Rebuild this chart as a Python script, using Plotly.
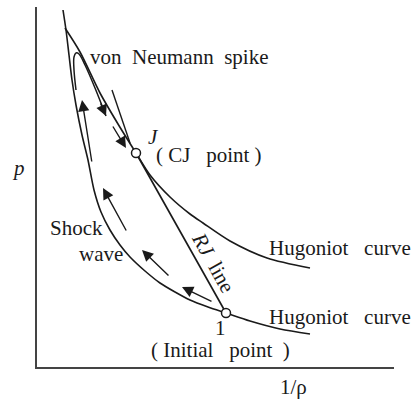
import plotly.graph_objects as go

H = 400  # picture height, used to turn read-off pixel rows into p values

# Upper (detonation-product) Hugoniot curve (x, row)
upper_x = [65, 80, 100, 118, 136, 150, 170, 190, 203, 230, 267, 310]
upper_r = [28, 52, 93, 124, 153, 175, 197, 214, 223, 241, 258, 268]

# Lower (unreacted) Hugoniot curve
lower_x = [63, 66, 69, 72, 76, 82, 88, 94, 101, 110, 120, 130, 145, 160, 175, 190, 208, 226, 250, 280, 310]
lower_r = [10, 30, 55, 80, 105, 135, 160, 190, 212, 230, 245, 257, 271, 283, 292, 300, 307, 313, 321, 329, 334]

# Rayleigh (RJ) line: initial point -> J, and the tangent piece above J
rj_x = [226, 136]
rj_r = [313, 153]
tan_x = [112, 130]
tan_r = [90, 143]

# Special points: J (CJ point) and 1 (initial point)
pt_x = [136, 226]
pt_r = [153, 313]

# von Neumann spike loop path
loop_x = [76, 74, 74, 76, 79, 85, 95, 106]
loop_r = [90, 70, 57, 53, 54, 65, 88, 116]

# Arrows along the path: tail (x, row) -> head (x, row)
arr_tx = [92, 127, 170, 213, 112, 100]
arr_tr = [163, 232, 277, 302, 125, 102]
arr_hx = [82, 103, 142, 182, 126, 106]
arr_hr = [100, 188, 250, 287, 148, 116]

# Axes frame
axis_x = [36, 36, 394]
axis_r = [7, 368, 368]

# Labels
S = "\u00a0"
lab_text = ["von" + S * 2 + "Neumann" + S * 2 + "spike", "<i>J</i>", "(" + S + "CJ" + S * 3 + "point" + S + ")",
            "<i>p</i>", "Shock", "wave", "Hugoniot" + S * 3 + "curve", "Hugoniot" + S * 3 + "curve",
            "1", "(" + S + "Initial" + S * 3 + "point" + S * 2 + ")", "1/\u03c1"]
lab_x = [88, 146, 154, 10, 48, 77, 267, 267, 213, 149, 278]
lab_r = [57, 137, 155, 168, 228, 254, 248, 317, 328, 350, 387]

def p(rows):
    return [H - r for r in rows]

BLACK = "#1a1a1a"
FONT = dict(family="Liberation Serif, Times New Roman, serif", size=21, color=BLACK)

fig = go.Figure()
fig.add_trace(go.Scatter(x=axis_x, y=p(axis_r), mode="lines",
                         line=dict(color="#444444", width=2), hoverinfo="skip"))
fig.add_trace(go.Scatter(x=upper_x, y=p(upper_r), mode="lines",
                         line=dict(color=BLACK, width=1.6, shape="spline", smoothing=0.8)))
fig.add_trace(go.Scatter(x=lower_x, y=p(lower_r), mode="lines",
                         line=dict(color=BLACK, width=1.6, shape="spline", smoothing=0.8)))
fig.add_trace(go.Scatter(x=rj_x, y=p(rj_r), mode="lines", line=dict(color=BLACK, width=1.6)))
fig.add_trace(go.Scatter(x=tan_x, y=p(tan_r), mode="lines", line=dict(color=BLACK, width=1.4)))
fig.add_trace(go.Scatter(x=loop_x, y=p(loop_r), mode="lines",
                         line=dict(color=BLACK, width=1.5, shape="spline", smoothing=1.0)))
fig.add_trace(go.Scatter(x=pt_x, y=p(pt_r), mode="markers",
                         marker=dict(size=9, color="white", line=dict(color=BLACK, width=1.5))))

for tx, tr, hx, hr in zip(arr_tx, arr_tr, arr_hx, arr_hr):
    fig.add_annotation(x=hx, y=H - hr, ax=tx, ay=H - tr, axref="x", ayref="y",
                       xref="x", yref="y", text="", showarrow=True, arrowhead=2,
                       arrowsize=1.6, arrowwidth=1.4, arrowcolor=BLACK, standoff=0, startstandoff=0)

for t, x, r in zip(lab_text, lab_x, lab_r):
    fig.add_annotation(x=x, y=H - r, text=t, showarrow=False, xanchor="left",
                       yanchor="middle", font=FONT)

fig.add_annotation(x=213, y=H - 262, text="<i>RJ</i>" + S * 2 + "line", showarrow=False,
                   textangle=61, font=FONT, xanchor="center", yanchor="middle")

fig.update_layout(width=414, height=400, margin=dict(l=0, r=0, t=0, b=0),
                  paper_bgcolor="white", plot_bgcolor="white", showlegend=False,
                  xaxis=dict(range=[0, 414], visible=False, fixedrange=True),
                  yaxis=dict(range=[0, 400], visible=False, fixedrange=True))

fig.write_html("out.html", include_plotlyjs=True, config={"displayModeBar": False})
